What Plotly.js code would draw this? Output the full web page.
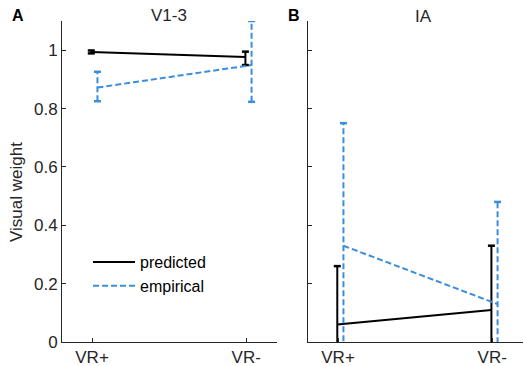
<!DOCTYPE html>
<html>
<head>
<meta charset="utf-8">
<script src="https://cdn.plot.ly/plotly-3.0.1.min.js"></script>
<style>html,body{margin:0;padding:0;background:#fff;}#chart{width:524px;height:366px;}</style>
</head>
<body>
<div id="chart"></div>
<script>
// ---- data ----
const categories = ["VR+", "VR-"];
const catPos = [1, 2];

// Panel A (V1-3)
const A_predicted = [0.994, 0.977];
const A_predicted_errUp = [0.005, 0.018];
const A_predicted_errDown = [0.005, 0.028];
const A_empirical = [0.872, 0.949];
const A_empirical_errUp = [0.054, 0.151];
const A_empirical_errDown = [0.047, 0.126];

// Panel B (IA)
const B_predicted = [0.06, 0.11];
const B_predicted_errUp = [0.20, 0.22];
const B_predicted_errDown = [0.20, 0.22];
const B_empirical = [0.33, 0.13];
const B_empirical_errUp = [0.42, 0.35];
const B_empirical_errDown = [0.42, 0.35];

const yTicks = [0, 0.2, 0.4, 0.6, 0.8, 1];
const yTickText = ["0", "0.2", "0.4", "0.6", "0.8", "1"];

// ---- styles ----
const BLACK = "#000000";
const BLUE = "#3a8edb";
const AX = "#262626";
const FONT = "Liberation Sans, Arial, sans-serif";
const FS = 17;
const empOffset = 0.035;
const predOffset = -0.005;

function series(xa, ya, vals, up, down, offset, color, dash, name, showLegend) {
  const xs = catPos.map(p => p + offset);
  const traces = [];
  traces.push({
    x: xs, y: vals, xaxis: xa, yaxis: ya, type: "scatter", mode: "lines",
    line: {color: color, width: 2, dash: dash}, name: name, showlegend: showLegend,
    hoverinfo: "skip"
  });
  for (let i = 0; i < vals.length; i++) {
    traces.push({
      x: [xs[i], xs[i]], y: [vals[i] - down[i], vals[i] + up[i]],
      xaxis: xa, yaxis: ya, type: "scatter", mode: "lines+markers",
      line: {color: color, width: 2, dash: dash},
      marker: {symbol: "line-ew", size: 5, line: {color: color, width: 2.5}},
      showlegend: false, hoverinfo: "skip", cliponaxis: true
    });
  }
  return traces;
}

let data = [];
data = data.concat(series("x", "y", A_predicted, A_predicted_errUp, A_predicted_errDown, predOffset, BLACK, "solid", "predicted", true));
data = data.concat(series("x", "y", A_empirical, A_empirical_errUp, A_empirical_errDown, empOffset, BLUE, "6px,3px", "empirical", true));
data = data.concat(series("x2", "y2", B_predicted, B_predicted_errUp, B_predicted_errDown, predOffset, BLACK, "solid", "predicted", false));
data = data.concat(series("x2", "y2", B_empirical, B_empirical_errUp, B_empirical_errDown, empOffset, BLUE, "6px,3px", "empirical", false));

const W = 524, H = 366;
const PT = 21, PB = 342;            // plot area top / bottom in px
const py = p => (PB - p) / (PB - PT); // px -> paper y
const px = p => p / W;                // px -> paper x

const axCommon = {
  showline: true, linecolor: AX, linewidth: 1, ticks: "inside", ticklen: 4,
  tickcolor: AX, tickwidth: 1, zeroline: false, showgrid: false,
  tickfont: {family: FONT, size: FS, color: AX}, fixedrange: true, automargin: false
};

const layout = {
  width: W, height: H,
  margin: {l: 0, r: 0, t: PT, b: H - PB},
  paper_bgcolor: "#ffffff", plot_bgcolor: "rgba(0,0,0,0)",
  showlegend: true,
  legend: {
    x: px(88), y: py(245), xref: "paper", yref: "paper", xanchor: "left", yanchor: "top",
    font: {family: FONT, size: 16, color: "#000"}, bgcolor: "rgba(0,0,0,0)",
    tracegroupgap: 0, itemwidth: 42
  },
  xaxis: Object.assign({}, axCommon, {domain: [px(62), px(277)], range: [0.805, 2.2],
    tickvals: catPos, ticktext: categories, anchor: "y"}),
  yaxis: Object.assign({}, axCommon, {domain: [0, 1], range: [0, 1.1],
    tickvals: yTicks, ticktext: yTickText, anchor: "x"}),
  xaxis2: Object.assign({}, axCommon, {domain: [px(308), px(523)], range: [0.805, 2.2],
    tickvals: catPos, ticktext: categories, anchor: "y2"}),
  yaxis2: Object.assign({}, axCommon, {domain: [0, 1], range: [0, 1.1],
    tickvals: yTicks, showticklabels: false, anchor: "x2"}),
  annotations: [
    {text: "V1-3", x: px(169), y: py(15), xref: "paper", yref: "paper", showarrow: false,
     font: {family: FONT, size: FS, color: AX}, xanchor: "center", yanchor: "middle"},
    {text: "IA", x: px(423), y: py(16), xref: "paper", yref: "paper", showarrow: false,
     font: {family: FONT, size: FS, color: AX}, xanchor: "center", yanchor: "middle"},
    {text: "<b>A</b>", x: px(18), y: py(15), xref: "paper", yref: "paper", showarrow: false,
     font: {family: FONT, size: 16, color: "#000"}, xanchor: "center", yanchor: "middle"},
    {text: "<b>B</b>", x: px(294), y: py(15), xref: "paper", yref: "paper", showarrow: false,
     font: {family: FONT, size: 16, color: "#000"}, xanchor: "center", yanchor: "middle"},
    {text: "Visual weight", x: px(17), y: py(192), xref: "paper", yref: "paper", showarrow: false,
     textangle: -90, font: {family: FONT, size: FS, color: AX}, xanchor: "center", yanchor: "middle"}
  ]
};

Plotly.newPlot("chart", data, layout, {staticPlot: true, displayModeBar: false});
</script>
</body>
</html>
